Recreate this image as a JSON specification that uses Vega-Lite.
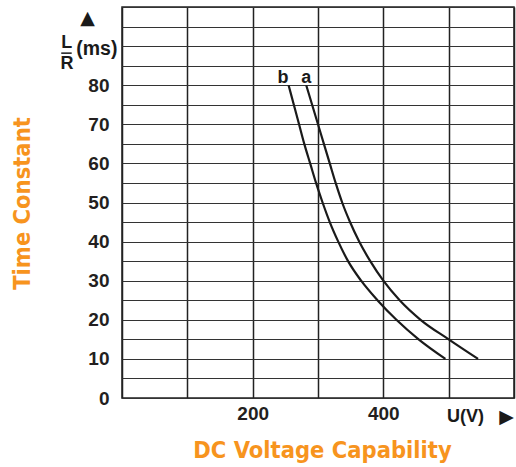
{
  "$schema": "https://vega.github.io/schema/vega-lite/v6.json",
  "width": 392,
  "height": 391,
  "autosize": "none",
  "padding": {"left": 122, "top": 7, "right": 2, "bottom": 69},
  "background": "white",
  "config": {
    "view": {"stroke": "#222", "strokeWidth": 1.5},
    "axis": {"domain": false, "ticks": false}
  },
  "resolve": {"axis": {"x": "independent", "y": "independent"}},
  "data": {
    "values": [
      {"series": "a", "V": 282, "t": 80}, {"series": "a", "V": 291, "t": 75}, {"series": "a", "V": 300, "t": 70},
      {"series": "a", "V": 309, "t": 65}, {"series": "a", "V": 318, "t": 60}, {"series": "a", "V": 327, "t": 55},
      {"series": "a", "V": 337, "t": 50}, {"series": "a", "V": 349, "t": 45}, {"series": "a", "V": 363, "t": 40},
      {"series": "a", "V": 380, "t": 35}, {"series": "a", "V": 400, "t": 30}, {"series": "a", "V": 425, "t": 25},
      {"series": "a", "V": 457, "t": 20}, {"series": "a", "V": 500, "t": 15}, {"series": "a", "V": 545, "t": 10},
      {"series": "b", "V": 255, "t": 80}, {"series": "b", "V": 263, "t": 75}, {"series": "b", "V": 271, "t": 70},
      {"series": "b", "V": 279, "t": 65}, {"series": "b", "V": 288, "t": 60}, {"series": "b", "V": 297, "t": 55},
      {"series": "b", "V": 307, "t": 50}, {"series": "b", "V": 318, "t": 45}, {"series": "b", "V": 331, "t": 40},
      {"series": "b", "V": 346, "t": 35}, {"series": "b", "V": 366, "t": 30}, {"series": "b", "V": 391, "t": 25},
      {"series": "b", "V": 420, "t": 20}, {"series": "b", "V": 454, "t": 15}, {"series": "b", "V": 495, "t": 10}
    ]
  },
  "layer": [
    {
      "mark": {"type": "line", "color": "#1a1a1a", "strokeWidth": 2.2, "interpolate": "monotone"},
      "encoding": {
        "x": {
          "field": "V", "type": "quantitative",
          "scale": {"domain": [0, 600], "nice": false},
          "axis": {
            "orient": "bottom",
            "values": [0, 100, 200, 300, 400, 500, 600],
            "labelExpr": "datum.value == 200 || datum.value == 400 ? datum.label : ''",
            "grid": true, "gridColor": "#222", "gridWidth": 1.5, "gridOpacity": 1,
            "labelFont": "Liberation Sans", "labelFontWeight": "bold", "labelFontSize": 19,
            "labelColor": "#231f20", "labelPadding": 6, "labelOverlap": false,
            "title": "DC Voltage Capability",
            "titleFont": "DejaVu Sans Condensed, Liberation Sans Narrow, sans-serif", "titleFontWeight": "bold", "titleFontSize": 23.5,
            "titleColor": "#F7941E", "titleX": 200, "titleY": 52, "titleAlign": "center", "titleBaseline": "middle"
          }
        },
        "y": {
          "field": "t", "type": "quantitative",
          "scale": {"domain": [0, 100], "nice": false},
          "axis": {
            "orient": "left",
            "values": [0, 5, 10, 15, 20, 25, 30, 35, 40, 45, 50, 55, 60, 65, 70, 75, 80, 85, 90, 95, 100],
            "labelExpr": "datum.value % 10 == 0 && datum.value <= 80 ? datum.label : ''",
            "grid": true, "gridColor": "#333", "gridWidth": 1.1, "gridOpacity": 1,
            "labelFont": "Liberation Sans", "labelFontWeight": "bold", "labelFontSize": 19,
            "labelColor": "#231f20", "labelPadding": 13, "labelOverlap": false,
            "title": "Time Constant",
            "titleFont": "DejaVu Sans Condensed, Liberation Sans Narrow, sans-serif", "titleFontWeight": "bold", "titleFontSize": 23.5,
            "titleColor": "#F7941E", "titleAngle": -90, "titleX": -100, "titleY": 196, "titleAlign": "center", "titleBaseline": "middle"
          }
        },
        "detail": {"field": "series"}
      }
    },
    {
      "transform": [{"filter": "datum.series == 'a' && datum.t == 80"}],
      "mark": {"type": "text", "font": "Liberation Sans", "fontWeight": "bold", "fontSize": 18, "color": "#1a1a1a", "baseline": "alphabetic", "dy": -2, "dx": 0},
      "encoding": {"x": {"field": "V", "type": "quantitative", "axis": null}, "y": {"field": "t", "type": "quantitative", "axis": null}, "text": {"field": "series"}}
    },
    {
      "transform": [{"filter": "datum.series == 'b' && datum.t == 80"}],
      "mark": {"type": "text", "font": "Liberation Sans", "fontWeight": "bold", "fontSize": 18, "color": "#1a1a1a", "baseline": "alphabetic", "dy": -2, "dx": -5.5},
      "encoding": {"x": {"field": "V", "type": "quantitative", "axis": null}, "y": {"field": "t", "type": "quantitative", "axis": null}, "text": {"field": "series"}}
    },
    {
      "data": {"values": [{}]},
      "mark": {"type": "text", "font": "DejaVu Sans", "fontSize": 19, "color": "#1a1a1a", "baseline": "middle", "align": "center"},
      "encoding": {"x": {"datum": -52.7, "axis": null}, "y": {"datum": 97.2, "axis": null}, "text": {"value": "▲"}}
    },
    {
      "data": {"values": [{}]},
      "mark": {"type": "text", "font": "Liberation Sans", "fontWeight": "bold", "fontSize": 18, "color": "#1a1a1a", "baseline": "middle", "align": "center"},
      "encoding": {"x": {"datum": -84.5, "axis": null}, "y": {"datum": 90.8, "axis": null}, "text": {"value": "L"}}
    },
    {
      "data": {"values": [{}]},
      "mark": {"type": "text", "font": "Liberation Sans", "fontWeight": "bold", "fontSize": 18, "color": "#1a1a1a", "baseline": "middle", "align": "center"},
      "encoding": {"x": {"datum": -84, "axis": null}, "y": {"datum": 85.3, "axis": null}, "text": {"value": "R"}}
    },
    {
      "data": {"values": [{}]},
      "mark": {"type": "rule", "color": "#1a1a1a", "strokeWidth": 1.5},
      "encoding": {"x": {"datum": -93, "axis": null}, "x2": {"datum": -77}, "y": {"datum": 88.2, "axis": null}}
    },
    {
      "data": {"values": [{}]},
      "mark": {"type": "text", "font": "Liberation Sans", "fontWeight": "bold", "fontSize": 19.5, "color": "#1a1a1a", "baseline": "middle", "align": "left"},
      "encoding": {"x": {"datum": -70, "axis": null}, "y": {"datum": 89.3, "axis": null}, "text": {"value": "(ms)"}}
    },
    {
      "data": {"values": [{}]},
      "mark": {"type": "text", "font": "Liberation Sans", "fontWeight": "bold", "fontSize": 18, "color": "#1a1a1a", "baseline": "middle", "align": "left"},
      "encoding": {"x": {"datum": 497.6, "axis": null}, "y": {"datum": -4.9, "axis": null}, "text": {"value": "U(V)"}}
    },
    {
      "data": {"values": [{}]},
      "mark": {"type": "text", "font": "DejaVu Sans", "fontSize": 19, "color": "#1a1a1a", "baseline": "middle", "align": "center"},
      "encoding": {"x": {"datum": 588.5, "axis": null}, "y": {"datum": -4.9, "axis": null}, "text": {"value": "▶"}}
    }
  ]
}
